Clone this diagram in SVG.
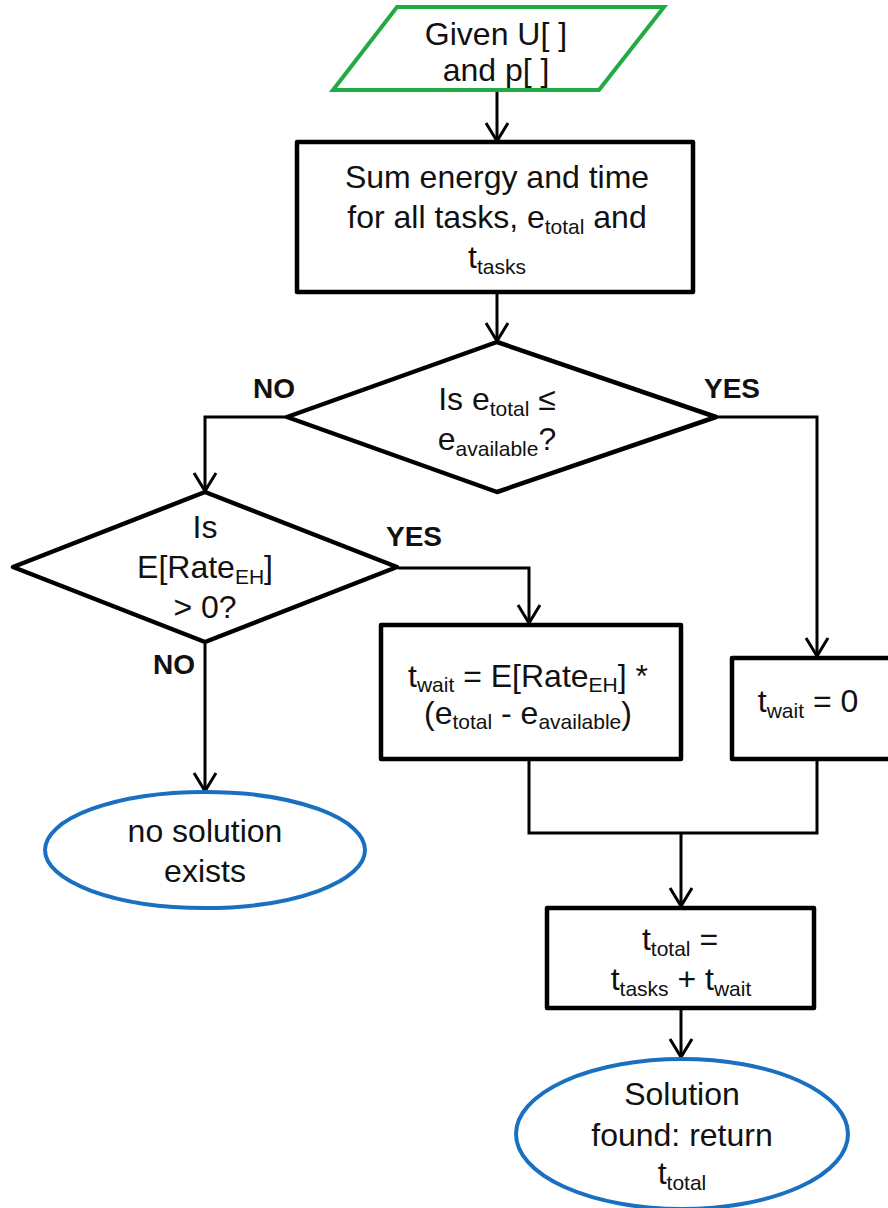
<svg xmlns="http://www.w3.org/2000/svg" width="888" height="1208" viewBox="0 0 888 1208">
<style>
text{font-family:"Liberation Sans",Arial,sans-serif;font-size:32px;fill:#111;text-anchor:middle}
.lbl{font-weight:bold;font-size:28px}
.box{fill:#fff;stroke:#000;stroke-width:4.5;stroke-linejoin:round}
.io{fill:#fff;stroke:#22aa44;stroke-width:4}
.term{fill:#fff;stroke:#1a70c0;stroke-width:4}
.con{fill:none;stroke:#000;stroke-width:3}
</style>
<defs>
<marker id="arr" viewBox="0 0 24 26" markerUnits="userSpaceOnUse" markerWidth="24" markerHeight="26" refX="21" refY="13" orient="auto">
<path d="M3,2 L21,13 L3,24" fill="none" stroke="#000" stroke-width="3"/>
</marker>
</defs>
<rect width="888" height="1208" fill="#fff"/>
<g id="connectors">
<path class="con" d="M497,91 L497,141" marker-end="url(#arr)"/>
<path class="con" d="M497,292 L497,341" marker-end="url(#arr)"/>
<path class="con" d="M287,417 L205,417 L205,491" marker-end="url(#arr)"/>
<path class="con" d="M716,417 L817,417 L817,656" marker-end="url(#arr)"/>
<path class="con" d="M398,568 L529,568 L529,623" marker-end="url(#arr)"/>
<path class="con" d="M205,644 L205,791" marker-end="url(#arr)"/>
<path class="con" d="M529,760 L529,833 L817,833 L817,760"/>
<path class="con" d="M681,833 L681,906" marker-end="url(#arr)"/>
<path class="con" d="M681,1008 L681,1057" marker-end="url(#arr)"/>
</g>
<g id="input">
<polygon class="io" points="397,7 664,7 599,90 333,90"/>
<text x="496" y="45">Given U[ ]</text>
<text x="496" y="81">and p[ ]</text>
</g>
<g id="sum">
<rect class="box" x="297" y="142" width="396" height="150"/>
<text x="497" y="188">Sum energy and time</text>
<text x="497" y="228">for all tasks, e<tspan font-size="21" dy="6">total</tspan><tspan dy="-6"> and</tspan></text>
<text x="497" y="268">t<tspan font-size="21" dy="6">tasks</tspan></text>
</g>
<g id="decision1">
<polygon class="box" points="497,342 716,417 497,492 287,417"/>
<text x="497" y="410">Is e<tspan font-size="21" dy="6">total</tspan><tspan dy="-6"> ≤</tspan></text>
<text x="497" y="450">e<tspan font-size="21" dy="6">available</tspan><tspan dy="-6">?</tspan></text>
<text class="lbl" x="274" y="398">NO</text>
<text class="lbl" x="732" y="398">YES</text>
</g>
<g id="decision2">
<polygon class="box" points="205,492 397,567 205,642 13,567"/>
<text x="205" y="538">Is</text>
<text x="205" y="578">E[Rate<tspan font-size="21" dy="6">EH</tspan><tspan dy="-6">]</tspan></text>
<text x="205" y="618">&gt; 0?</text>
<text class="lbl" x="414" y="546">YES</text>
<text class="lbl" x="174" y="674">NO</text>
</g>
<g id="wait-calc">
<rect class="box" x="381" y="625" width="300" height="134"/>
<text x="528" y="687">t<tspan font-size="21" dy="5">wait</tspan><tspan dy="-5"> = E[Rate</tspan><tspan font-size="21" dy="5">EH</tspan><tspan dy="-5">] *</tspan></text>
<text x="528" y="724">(e<tspan font-size="21" dy="5">total</tspan><tspan dy="-5"> - e</tspan><tspan font-size="21" dy="5">available</tspan><tspan dy="-5">)</tspan></text>
</g>
<g id="wait-zero">
<rect class="box" x="732" y="658" width="200" height="101"/>
<text x="808" y="712">t<tspan font-size="21" dy="6">wait</tspan><tspan dy="-6"> = 0</tspan></text>
</g>
<g id="no-solution">
<ellipse class="term" cx="205" cy="850" rx="160" ry="58"/>
<text x="205" y="842">no solution</text>
<text x="205" y="882">exists</text>
</g>
<g id="total">
<rect class="box" x="547" y="908" width="267" height="100"/>
<text x="680" y="950">t<tspan font-size="21" dy="6">total</tspan><tspan dy="-6"> =</tspan></text>
<text x="681" y="990">t<tspan font-size="21" dy="6">tasks</tspan><tspan dy="-6"> + t</tspan><tspan font-size="21" dy="6">wait</tspan></text>
</g>
<g id="solution">
<ellipse class="term" cx="682" cy="1134" rx="166" ry="75"/>
<text x="682" y="1105">Solution</text>
<text x="682" y="1146">found: return</text>
<text x="682" y="1184">t<tspan font-size="21" dy="6">total</tspan></text>
</g>
</svg>
